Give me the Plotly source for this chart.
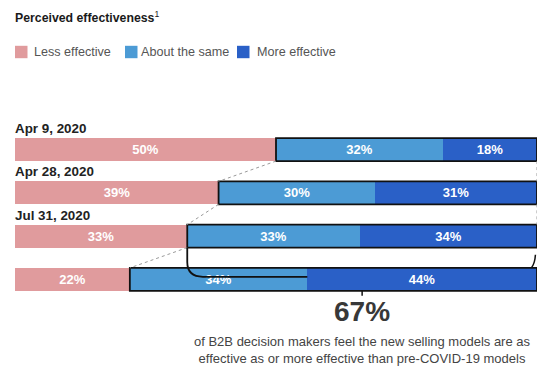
import plotly.graph_objects as go

# ---- data ----
dates = ["Apr 9, 2020", "Apr 28, 2020", "Jul 31, 2020", ""]
less_effective = [50, 39, 33, 22]
about_same = [32, 30, 33, 34]
more_effective = [18, 31, 34, 44]
series_names = ["Less effective", "About the same", "More effective"]
headline_value = "67%"
headline_text = ("of B2B decision makers feel the new selling models are as<br>"
                 "effective as or more effective than pre-COVID-19 models")
title_text = "<b>Perceived effectiveness</b><sup>1</sup>"

# ---- styles ----
PINK = "#E09B9D"
LIGHT = "#4C9BD5"
DARK = "#2A60C7"
COLORS = [PINK, LIGHT, DARK]
FONT = "Liberation Sans, Arial, sans-serif"
BAR_W = 0.53
HALF = BAR_W / 2

W, H = 550, 385
ML, MR, MT, MB = 15, 13, 128, 84
PW, PH = W - ML - MR, H - MT - MB


def px_x(p):
    return (p - ML) / PW


def px_y(p):
    return (H - MB - p) / PH


ypos = list(range(len(dates)))

fig = go.Figure()
for name, vals, col in zip(series_names, [less_effective, about_same, more_effective], COLORS):
    fig.add_trace(go.Bar(
        name=name, y=ypos, x=vals, orientation="h", width=BAR_W,
        marker=dict(color=col, line=dict(width=0)),
        texttemplate="%{x}%", textposition="inside", insidetextanchor="middle",
        textangle=0, constraintext="none",
        textfont=dict(color="white", size=13, family=FONT, weight="bold"),
        hoverinfo="skip", showlegend=False,
    ))

shapes = []
n = len(dates)
for i in range(n):
    shapes.append(dict(type="rect", xref="x", yref="y",
                       x0=less_effective[i], x1=100, y0=i - HALF, y1=i + HALF,
                       line=dict(color="#111111", width=1.8), fillcolor="rgba(0,0,0,0)",
                       layer="above"))
for i in range(n - 1):
    shapes.append(dict(type="line", xref="x", yref="y",
                       x0=less_effective[i], y0=i + HALF,
                       x1=less_effective[i + 1], y1=i + 1 - HALF,
                       line=dict(color="#9a9a9a", width=1, dash="dot")))
for i in range(n - 2):
    shapes.append(dict(type="line", xref="x", yref="y",
                       x0=100, y0=i + HALF, x1=100, y1=i + 1 - HALF,
                       line=dict(color="#9a9a9a", width=1, dash="dot")))
bx0 = less_effective[2]
bend = less_effective[3] + about_same[3]
by = 2.94
shapes.append(dict(type="path", xref="x", yref="y",
                   path=f"M {bx0},{2 + HALF} L {bx0},2.6 Q {bx0},{by} {bx0 + 3},{by} L {bend},{by}",
                   line=dict(color="#111111", width=1.8), layer="above"))
shapes.append(dict(type="path", xref="x", yref="y",
                   path="M 99.7,2.43 Q 99.6,2.62 99.0,2.72",
                   line=dict(color="#111111", width=1.5), layer="below"))
shapes.append(dict(type="line", xref="x", yref="y",
                   x0=66.5, x1=66.5, y0=3 + HALF, y1=3.38,
                   line=dict(color="#111111", width=1.5)))

annotations = []
# legend (swatches + labels)
legend_sw_x = [15, 125, 237]
legend_tx_x = [33, 140, 256]
leg_y = 52
for name, col, sx, tx in zip(series_names, COLORS, legend_sw_x, legend_tx_x):
    shapes.append(dict(type="rect", xref="paper", yref="paper",
                       x0=px_x(sx), x1=px_x(sx + 12.5),
                       y0=px_y(leg_y - 6.2), y1=px_y(leg_y + 6.2),
                       fillcolor=col, line=dict(width=0)))
    annotations.append(dict(text=name, xref="paper", yref="paper",
                            x=px_x(tx - 1), y=px_y(leg_y), xanchor="left", yanchor="middle",
                            showarrow=False,
                            font=dict(family=FONT, size=12.6, color="#555555")))

for i, d in enumerate(dates):
    if d:
        annotations.append(dict(text=f"<b>{d}</b>", xref="paper", yref="y",
                                x=-2 / PW, y=i - 0.486, xanchor="left", yanchor="middle",
                                showarrow=False,
                                font=dict(family=FONT, size=13.4, color="#222222")))
annotations.append(dict(text=headline_value, xref="x", yref="paper",
                        x=66.5, y=px_y(311), xanchor="center", yanchor="middle",
                        showarrow=False,
                        font=dict(family=FONT, size=28, color="#383838", weight="bold")))
annotations.append(dict(text=headline_text, xref="x", yref="paper",
                        x=66.5, y=px_y(350), xanchor="center", yanchor="middle",
                        showarrow=False, align="center",
                        font=dict(family=FONT, size=13, color="#444444")))

fig.update_layout(
    width=W, height=H,
    margin=dict(l=ML, r=MR, t=MT, b=MB),
    paper_bgcolor="white", plot_bgcolor="white",
    barmode="stack", bargap=0,
    showlegend=False,
    title=dict(text=title_text, xref="container", yref="container",
               x=15 / W, y=1 - 18 / H, xanchor="left", yanchor="middle",
               font=dict(family=FONT, size=12.3, color="#1a1a1a")),
    xaxis=dict(range=[0, 100], visible=False, fixedrange=True),
    yaxis=dict(range=[3.5, -0.5], visible=False, fixedrange=True),
    shapes=shapes, annotations=annotations,
)

fig.write_html("out.html", config={"displayModeBar": False},
               post_script="document.body.style.margin='0';")
